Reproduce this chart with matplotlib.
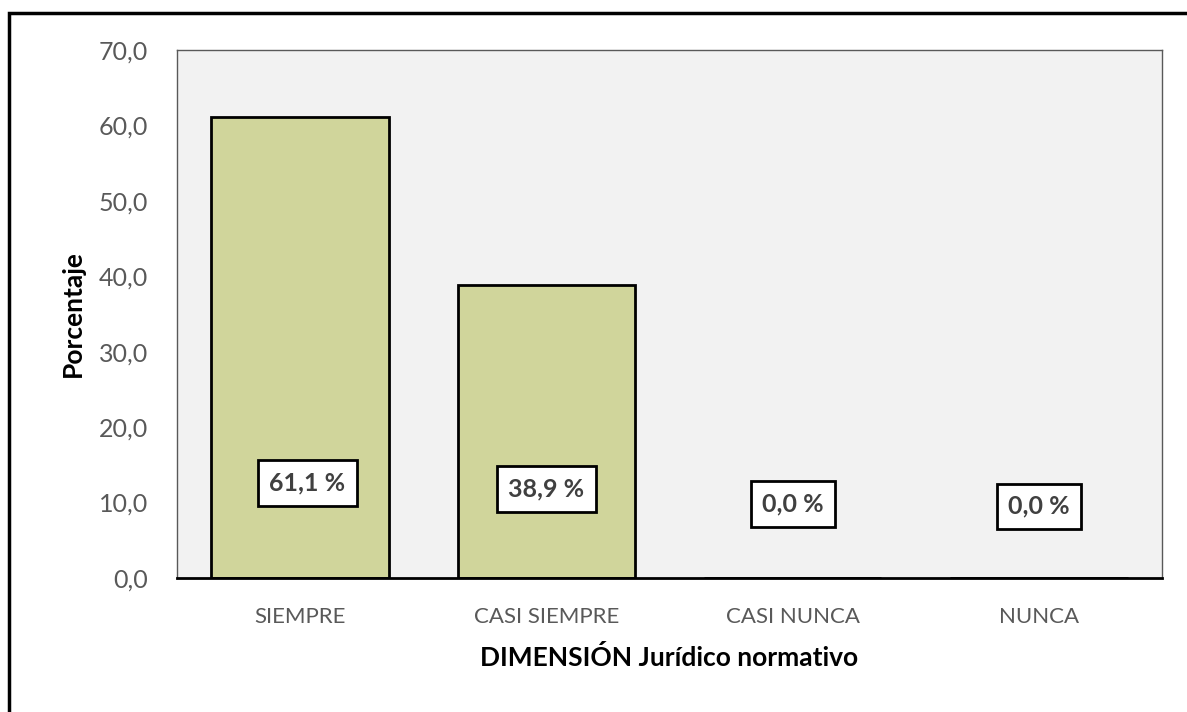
import matplotlib.pyplot as plt
from matplotlib.patches import Rectangle
from matplotlib.ticker import FuncFormatter

# datos
categorias = ["SIEMPRE", "CASI SIEMPRE", "CASI NUNCA", "NUNCA"]
porcentajes = [61.1, 38.9, 0.0, 0.0]
etiquetas = ["61,1 %", "38,9 %", "0,0 %", "0,0 %"]

plt.rcParams["font.family"] = ["Lato", "DejaVu Sans"]

fig = plt.figure(figsize=(11.87, 7.12), dpi=100)
fig.patch.set_facecolor("white")

# marco exterior (se sale por la derecha y abajo)
fig.patches.append(Rectangle((9 / 1187, -0.05), 1.2, 1 - 13 / 712 + 0.05,
                             transform=fig.transFigure, fill=False,
                             edgecolor="black", linewidth=2.5, zorder=0))

ax = fig.add_axes([177 / 1187, 134 / 712, 985 / 1187, 528 / 712])
ax.set_facecolor("#F2F2F2")

x = range(len(categorias))
ax.bar(x, porcentajes, width=0.72, color="#D0D59B", edgecolor="black",
       linewidth=2, zorder=3)

# etiquetas de datos en cajas
pos_etiqueta = [12.6, 11.8, 9.8, 9.5]
desp_x = [0.03, 0.0, 0.0, 0.0]
for i, txt in enumerate(etiquetas):
    ax.text(i + desp_x[i], pos_etiqueta[i], txt, ha="center", va="center", fontsize=18,
            fontweight="bold", color="#404040", zorder=5,
            bbox=dict(boxstyle="square,pad=0.45", facecolor="white",
                      edgecolor="black", linewidth=2))

ax.set_xlim(-0.5, 3.5)
ax.set_ylim(0, 70)
ax.set_yticks(range(0, 71, 10))
ax.yaxis.set_major_formatter(FuncFormatter(lambda v, p: f"{v:.1f}".replace(".", ",")))
ax.set_xticks(list(x))
ax.set_xticklabels(categorias)
ax.tick_params(axis="both", length=0, labelcolor="#595959")
ax.tick_params(axis="y", pad=21, labelsize=18)
ax.tick_params(axis="x", pad=21, labelsize=16)

for s in ["top", "right", "left"]:
    ax.spines[s].set_color("#595959")
    ax.spines[s].set_linewidth(1)
ax.spines["bottom"].set_color("black")
ax.spines["bottom"].set_linewidth(2)
ax.spines["bottom"].set_zorder(4)

ax.set_ylabel("Porcentaje", fontsize=19, fontweight="bold", color="black", labelpad=10)
ax.set_xlabel("DIMENSIÓN Jurídico normativo", fontsize=19, fontweight="bold",
              color="black", labelpad=13)

plt.savefig("out.png", dpi=100)
